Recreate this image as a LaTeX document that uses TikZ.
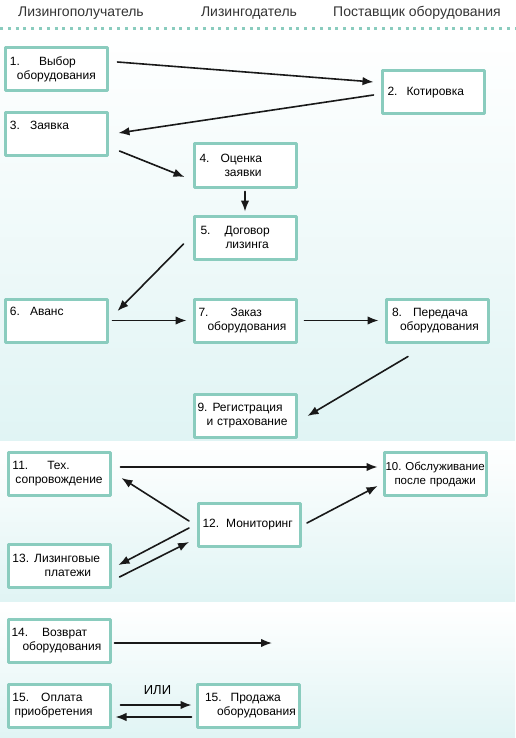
\documentclass[tikz,border=0pt]{standalone}
\usepackage{fontspec}
\setmainfont{Liberation Sans}
\usetikzlibrary{arrows.meta,calc}

\definecolor{boxline}{RGB}{138,204,190}
\definecolor{bandtint}{RGB}{224,244,244}
\newcommand{\ind}[1]{\hspace*{#1pt}}

\begin{document}
\begin{tikzpicture}[x=1pt, y=-1pt, >={Latex[length=11pt,width=8.5pt]}, line cap=round, line join=round,
    box/.style={draw=boxline, line width=3pt, fill=white, minimum width=102pt, minimum height=43pt,
        text width=95pt, inner xsep=0pt, inner ysep=0pt, align=left, font=\fontsize{12}{14}\selectfont},
    arr/.style={->, line width=1.6pt, draw=black!90},
    hdr/.style={font=\fontsize{14}{16}\selectfont, text=black!80}]
    \useasboundingbox (0,0) rectangle (515,738);

    % Background bands
    \shade[top color=white, bottom color=bandtint] (0,33) rectangle (515,440);
    \shade[top color=white, bottom color=bandtint] (0,442) rectangle (515,601);
    \shade[top color=white, bottom color=bandtint] (0,606) rectangle (515,738);

    % Header
    \node[hdr] (hLessee) at (81,13) {Лизингополучатель};
    \node[hdr] (hLessor) at (249,13) {Лизингодатель};
    \node[hdr] (hSupplier) at (417,13) {Поставщик оборудования};
    \draw[boxline, line width=3pt, line cap=butt, dash pattern=on 3pt off 4.8pt] (0,29) -- (515,29);

    % Steps
    \node[box] (b1) at (56.5,69) {\ind{1}1.\ind{19}Выбор\\\ind{8}оборудования};
    \node[box] (b2) at (433,92.5) {\ind{2}2.\ind{9}Котировка};
    \node[box] (b3) at (56.5,134.5) {\ind{1}3.\ind{10}Заявка\\\strut};
    \node[box] (b4) at (245,165.5) {\ind{2}4.\ind{11}Оценка\\\ind{27}заявки};
    \node[box] (b5) at (245,237.5) {\ind{3}5.\ind{14}Договор\\\ind{28}лизинга};
    \node[box] (b6) at (56.5,320.5) {\ind{1}6.\ind{10}Аванс\\\strut};
    \node[box] (b7) at (245,320.5) {\ind{1}7.\ind{22}Заказ\\\ind{10}оборудования};
    \node[box] (b8) at (437.5,320.5) {\ind{2}8.\ind{11}Передача\\\ind{10}оборудования};
    \node[box] (b9) at (245,415.5) {9.\ind{5}Регистрация\\\ind{9}и страхование};
    \node[box] (b11) at (59,474) {\ind{1}11.\ind{19}Тех.\\\ind{4}сопровождение};
    \node[box, text width=100pt, font=\fontsize{11.5}{14}\selectfont] (b10) at (435.5,474)
        {10.~Обслуживание\\\ind{9}после продажи};
    \node[box] (b12) at (249,524.5) {\ind{1}12.\ind{7}Мониторинг};
    \node[box] (b13) at (59,565.5) {\ind{1}13.\ind{5}Лизинговые\\\ind{33}платежи};
    \node[box] (b14) at (59,640.5) {14.\ind{14}Возврат\\\ind{11}оборудования};
    \node[box] (b15a) at (59,705.5) {\ind{1}15.\ind{12}Оплата\\\ind{3}приобретения};
    \node[box] (b15b) at (248.5,705.5) {\ind{4}15.\ind{9}Продажа\\\ind{16}оборудования};
    \node[font=\fontsize{13}{15}\selectfont] (orLbl) at (157.5,690) {ИЛИ};
    \coordinate (retEnd) at (272,643);

    % Arrows
    \draw[arr] ($(b1.east)+(8.5,-7)$) -- ($(b2.west)+(-7,-10.5)$);
    \draw[arr] ($(b2.west)+(-7,2.5)$) -- ($(b3.east)+(9.5,-1.5)$);
    \draw[arr] ($(b3.east)+(10.5,16.5)$) -- ($(b4.west)+(-8,11.5)$);
    \draw[arr] ($(b4.south)+(0,3)$) -- ($(b5.north)+(0,-3)$);
    \draw[arr] ($(b5.west)+(-9,6.5)$) -- ($(b6.east)+(8.5,-9.5)$);
    \draw[arr] ($(b6.east)+(3.5,0)$) -- ($(b7.west)+(-6,0)$);
    \draw[arr] ($(b7.east)+(7,0)$) -- ($(b8.west)+(-6.5,0)$);
    \draw[arr] ($(b8.south)+(-29.5,13)$) -- ($(b9.east)+(10,0.5)$);
    \draw[arr] ($(b11.east)+(9,-7)$) -- ($(b10.west)+(-5.5,-7)$);
    \draw[arr] ($(b12.west)+(-7.5,-3.5)$) -- ($(b11.east)+(10,4)$);
    \draw[arr] ($(b12.east)+(5.5,-1.5)$) -- ($(b10.west)+(-5.5,12)$);
    \draw[arr] ($(b12.west)+(-7.5,3.5)$) -- ($(b13.east)+(7,-0.5)$);
    \draw[arr] ($(b13.east)+(8,11.5)$) -- ($(b12.west)+(-7.5,17.5)$);
    \draw[arr] ($(b14.east)+(3,2.5)$) -- (retEnd);
    \draw[arr] ($(b15a.east)+(9,-0.5)$) -- ($(b15b.west)+(-4.5,-0.5)$);
    \draw[arr] ($(b15b.west)+(-4.5,11.5)$) -- ($(b15a.east)+(4,11.5)$);
\end{tikzpicture}
\end{document}
